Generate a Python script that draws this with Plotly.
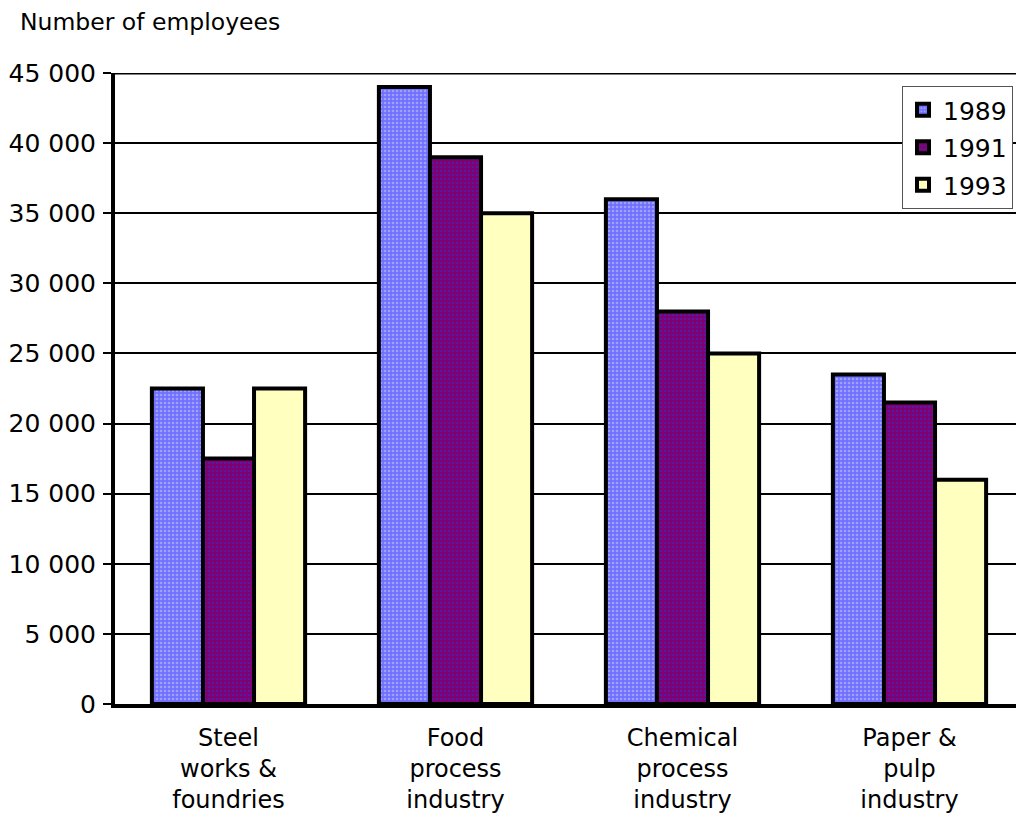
import plotly.graph_objects as go

categories = ["Steel<br>works &<br>foundries", "Food<br>process<br>industry",
              "Chemical<br>process<br>industry", "Paper &<br>pulp<br>industry"]
years = ["1989", "1991", "1993"]
emp_1989 = [22500, 44000, 36000, 23500]
emp_1991 = [17500, 39000, 28000, 21500]
emp_1993 = [22500, 35000, 25000, 16000]
tick_vals = [0, 5000, 10000, 15000, 20000, 25000, 30000, 35000, 40000, 45000]
tick_text = ["0", "5 000", "10 000", "15 000", "20 000", "25 000",
             "30 000", "35 000", "40 000", "45 000"]

FONT = "'DejaVu Sans', sans-serif"

styles = [
    dict(bg="#7070ff", fg="#d0d0ff", shape="."),
    dict(bg="#800070", fg="#3030d0", shape="."),
    dict(bg="#FFFFC0", fg="#FFFFC0", shape=""),
]

fig = go.Figure()
for name, vals, st in zip(years, [emp_1989, emp_1991, emp_1993], styles):
    fig.add_trace(go.Bar(
        name=name, legendgroup=name, x=list(range(len(categories))), y=vals,
        marker=dict(
            color=st["bg"],
            line=dict(color="black", width=4),
            pattern=dict(shape=st["shape"], fgcolor=st["fg"], bgcolor=st["bg"],
                         size=4, solidity=0.35, fillmode="overlay"),
        ),
    ))

L, T, R, B = 115, 73, 0, 113
W, H = 1016, 817
pw, ph = W - L - R, H - T - B

fig.update_layout(
    width=W, height=H,
    margin=dict(l=L, r=R, t=T, b=B),
    paper_bgcolor="white", plot_bgcolor="white",
    barmode="group", bargap=0.325, bargroupgap=0,
    font=dict(family=FONT, size=24, color="black"),
    showlegend=True,
    legend=dict(
        x=(1013 - L) / pw, xanchor="right",
        y=1 - (86 - T) / ph, yanchor="top",
        bgcolor="white", bordercolor="#555555", borderwidth=1,
        font=dict(size=25, family=FONT),
        itemwidth=30, traceorder="grouped", tracegroupgap=2,
    ),
    xaxis=dict(
        range=[-0.5, -0.5 + pw / 227.0],
        tickmode="array", tickvals=list(range(len(categories))), ticktext=categories,
        showgrid=False, showline=True, linecolor="black", linewidth=4,
        ticks="", zeroline=False, ticklabelstandoff=9,
        tickfont=dict(size=24, family=FONT),
    ),
    yaxis=dict(
        range=[0, 45000],
        tickmode="array", tickvals=tick_vals, ticktext=tick_text,
        showgrid=True, gridcolor="black", gridwidth=2,
        showline=True, linecolor="black", linewidth=4,
        ticks="outside", ticklen=8, tickwidth=2, tickcolor="black",
        ticklabelstandoff=2, zeroline=False,
        tickfont=dict(size=25, family=FONT),
    ),
    annotations=[dict(
        text="Number of employees", xref="paper", yref="paper",
        x=(18 - L) / pw, y=1 + (T - 22) / ph, xanchor="left", yanchor="middle",
        showarrow=False, font=dict(size=23.5, family=FONT),
    )],
    shapes=[dict(type="line", xref="paper", yref="y", x0=0, x1=1,
                 y0=45000, y1=45000, line=dict(color="black", width=3))],
)

fig.write_html("out.html")
